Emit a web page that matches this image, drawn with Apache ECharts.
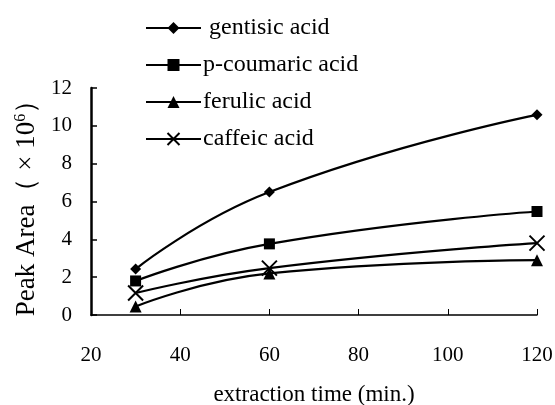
<!DOCTYPE html>
<html>
<head>
<meta charset="utf-8">
<script src="https://cdn.jsdelivr.net/npm/echarts@6/dist/echarts.min.js"></script>
<style>html,body{margin:0;padding:0;background:#fff}#c{width:555px;height:405px}</style>
</head>
<body>
<div id="c"></div>
<script>
var seriesNames = [' gentisic acid', 'p-coumaric acid', 'ferulic acid', 'caffeic acid'];
var times = [30, 60, 120];
var gentisic = [2.43, 6.5, 10.58];
var coumaric = [1.8, 3.76, 5.47];
var ferulic = [0.45, 2.2, 2.9];
var caffeic = [1.16, 2.48, 3.8];
var xTicks = [20, 40, 60, 80, 100, 120];
var yTicks = [0, 2, 4, 6, 8, 10, 12];

var FONT = "'Liberation Serif', 'Times New Roman', serif";
function pairs(vals){ return times.map(function(t,i){ return [t, vals[i]]; }); }
var X_PATH = 'path://M0,0L10,10M10,0L0,10';
var symbols = ['diamond', 'rect', 'triangle', X_PATH];
var sizes = [11, 11, 12, 15];
var allVals = [gentisic, coumaric, ferulic, caffeic];

var chart = echarts.init(document.getElementById('c'), null, {renderer: 'canvas'});
chart.setOption({
  animation: false,
  backgroundColor: '#fff',
  textStyle: {fontFamily: FONT, color: '#000'},
  grid: {left: 91, right: 18, top: 88, bottom: 90, containLabel: false, outerBoundsMode: 'none'},
  legend: {
    orient: 'vertical', left: 140, top: 11, itemGap: 13,
    itemWidth: 55, itemHeight: 15,
    textStyle: {fontFamily: FONT, fontSize: 24, color: '#000', padding: [0,0,0,-3]},
    data: seriesNames
  },
  xAxis: {
    type: 'value', min: xTicks[0], max: xTicks[xTicks.length-1], interval: 20,
    name: 'extraction time (min.)', nameLocation: 'middle', nameGap: 68,
    nameTextStyle: {fontFamily: FONT, fontSize: 23, color: '#000'},
    axisLine: {show: true, lineStyle: {color: '#000', width: 1.5}},
    axisTick: {show: true, inside: true, length: 6, lineStyle: {color: '#000', width: 1}},
    axisLabel: {fontFamily: FONT, fontSize: 21, color: '#000', margin: 30},
    splitLine: {show: false}
  },
  yAxis: {
    type: 'value', min: yTicks[0], max: yTicks[yTicks.length-1], interval: 2,
    name: '{a|Peak Area（ × 10}{s|6}{a|）}', nameLocation: 'middle', nameGap: 48,
    nameTextStyle: {
      fontFamily: FONT, color: '#000',
      rich: {
        a: {fontFamily: FONT, fontSize: 27, color: '#000'},
        s: {fontFamily: FONT, fontSize: 16, color: '#000', padding: [0,0,12,0]}
      }
    },
    axisLine: {show: true, onZero: false, lineStyle: {color: '#000', width: 2.5}},
    axisTick: {show: true, inside: true, length: 6, lineStyle: {color: '#000', width: 1.5}},
    axisLabel: {fontFamily: FONT, fontSize: 21, color: '#000', margin: 19},
    splitLine: {show: false}
  },
  series: seriesNames.map(function(n, i){
    var isX = i === 3;
    return {
      name: n, type: 'line', smooth: 0.5,
      data: pairs(allVals[i]),
      symbol: symbols[i], symbolSize: sizes[i], showSymbol: true,
      lineStyle: {color: '#000', width: 2.2},
      itemStyle: isX ? {color: 'rgba(0,0,0,0)', borderColor: '#000', borderWidth: 2} : {color: '#000', borderWidth: 0},
      z: 2
    };
  })
});
</script>
</body>
</html>
